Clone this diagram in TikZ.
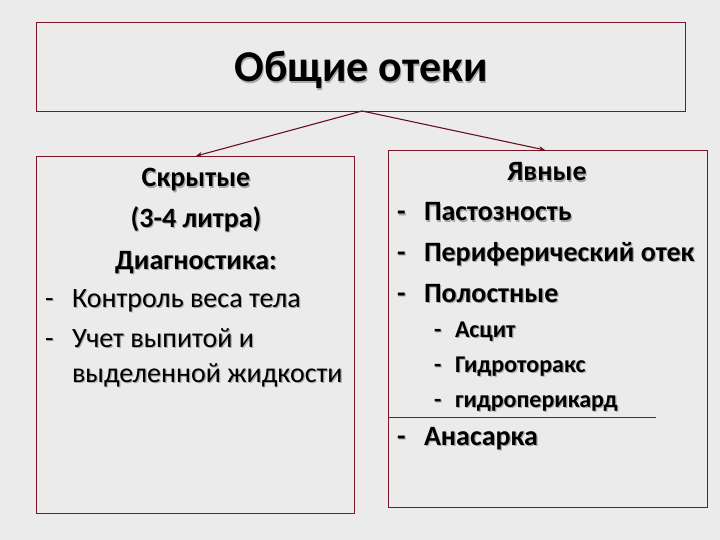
\documentclass[tikz,border=0pt]{standalone}
\usepackage{fontspec}
\setmainfont{Carlito}
\usetikzlibrary{arrows.meta}
\definecolor{bg}{HTML}{EBEBEB}
\definecolor{frame}{HTML}{7A1428}
\definecolor{arr}{HTML}{6A0F1E}
\definecolor{shad}{HTML}{A8A8A8}
\newcommand{\shtxt}[5]{%
  \node[txt,anchor=#3,text=shad,font=#4] at ([xshift=1.2pt,yshift=-1.2pt]#1) {#5};
  \node[txt,anchor=#3,font=#4] (#2) at (#1) {#5};}
\newcommand{\fmain}{\fontsize{28}{32}\selectfont}
\newcommand{\fsub}{\fontsize{24}{28}\selectfont}
\begin{document}
\begin{tikzpicture}[x=1pt,y=-1pt,
  boxframe/.style={draw=frame,line width=0.8pt},
  txt/.style={inner sep=0pt,outer sep=0pt},
  conn/.style={draw=arr,line width=1.1pt,-{Stealth[length=6pt,width=5pt]}}]
\fill[bg] (0,0) rectangle (720,540);
\useasboundingbox (0,0) rectangle (720,540);
% boxes
\node[boxframe,inner sep=0pt,minimum width=649pt,minimum height=89pt,anchor=north west] (top) at (36,22) {};
\node[boxframe,inner sep=0pt,minimum width=318pt,minimum height=357pt,anchor=north west] (left) at (36,156) {};
\node[boxframe,inner sep=0pt,minimum width=319pt,minimum height=357pt,anchor=north west] (right) at (388,150) {};
\coordinate (src) at (362,111);
\coordinate (ltip) at (196,156);
\coordinate (rtip) at (545,150);
\draw[conn] (src) -- (ltip);
\draw[conn] (src) -- (rtip);
\coordinate (hl1) at (388,417);
\coordinate (hl2) at (656,417);
\draw[frame,line width=0.8pt] (hl1) -- (hl2);
% title
\coordinate (ptitle) at (361,82);
\shtxt{ptitle}{title}{base}{\fontsize{44}{50}\selectfont\bfseries}{Общие отеки}
% left
\coordinate (l1) at (196,187);
\coordinate (l2) at (196,227);
\coordinate (l3) at (196,269);
\coordinate (l4d) at (45,307);
\coordinate (l4) at (72,307);
\coordinate (l5d) at (45,347);
\coordinate (l5) at (72,347);
\coordinate (l6) at (72,382);
\shtxt{l1}{t1}{base}{\fmain\bfseries}{Скрытые}
\shtxt{l2}{t2}{base}{\fmain\bfseries}{(3-4 литра)}
\shtxt{l3}{t3}{base}{\fmain\bfseries}{Диагностика:}
\shtxt{l4d}{t4d}{base west}{\fmain}{-}
\shtxt{l4}{t4}{base west}{\fmain}{Контроль веса тела}
\shtxt{l5d}{t5d}{base west}{\fmain}{-}
\shtxt{l5}{t5}{base west}{\fmain}{Учет выпитой и}
\shtxt{l6}{t6}{base west}{\fmain}{выделенной жидкости}
% right
\coordinate (r1) at (547,181);
\shtxt{r1}{s1}{base}{\fmain\bfseries}{Явные}
\coordinate (r2d) at (397,221);
\coordinate (r2) at (424,221);
\shtxt{r2d}{s2d}{base west}{\fmain\bfseries}{-}
\shtxt{r2}{s2}{base west}{\fmain\bfseries}{Пастозность}
\coordinate (r3d) at (397,261);
\coordinate (r3) at (424,261);
\shtxt{r3d}{s3d}{base west}{\fmain\bfseries}{-}
\shtxt{r3}{s3}{base west}{\fmain\bfseries}{Периферический отек}
\coordinate (r4d) at (397,302);
\coordinate (r4) at (424,302);
\shtxt{r4d}{s4d}{base west}{\fmain\bfseries}{-}
\shtxt{r4}{s4}{base west}{\fmain\bfseries}{Полостные}
\coordinate (r5d) at (434,337);
\coordinate (r5) at (455,337);
\shtxt{r5d}{s5d}{base west}{\fsub\bfseries}{-}
\shtxt{r5}{s5}{base west}{\fsub\bfseries}{Асцит}
\coordinate (r6d) at (434,372);
\coordinate (r6) at (455,372);
\shtxt{r6d}{s6d}{base west}{\fsub\bfseries}{-}
\shtxt{r6}{s6}{base west}{\fsub\bfseries}{Гидроторакс}
\coordinate (r7d) at (434,407);
\coordinate (r7) at (455,407);
\shtxt{r7d}{s7d}{base west}{\fsub\bfseries}{-}
\shtxt{r7}{s7}{base west}{\fsub\bfseries}{гидроперикард}
\coordinate (r8d) at (397,445);
\coordinate (r8) at (424,445);
\shtxt{r8d}{s8d}{base west}{\fmain\bfseries}{-}
\shtxt{r8}{s8}{base west}{\fmain\bfseries}{Анасарка}
\end{tikzpicture}
\end{document}
